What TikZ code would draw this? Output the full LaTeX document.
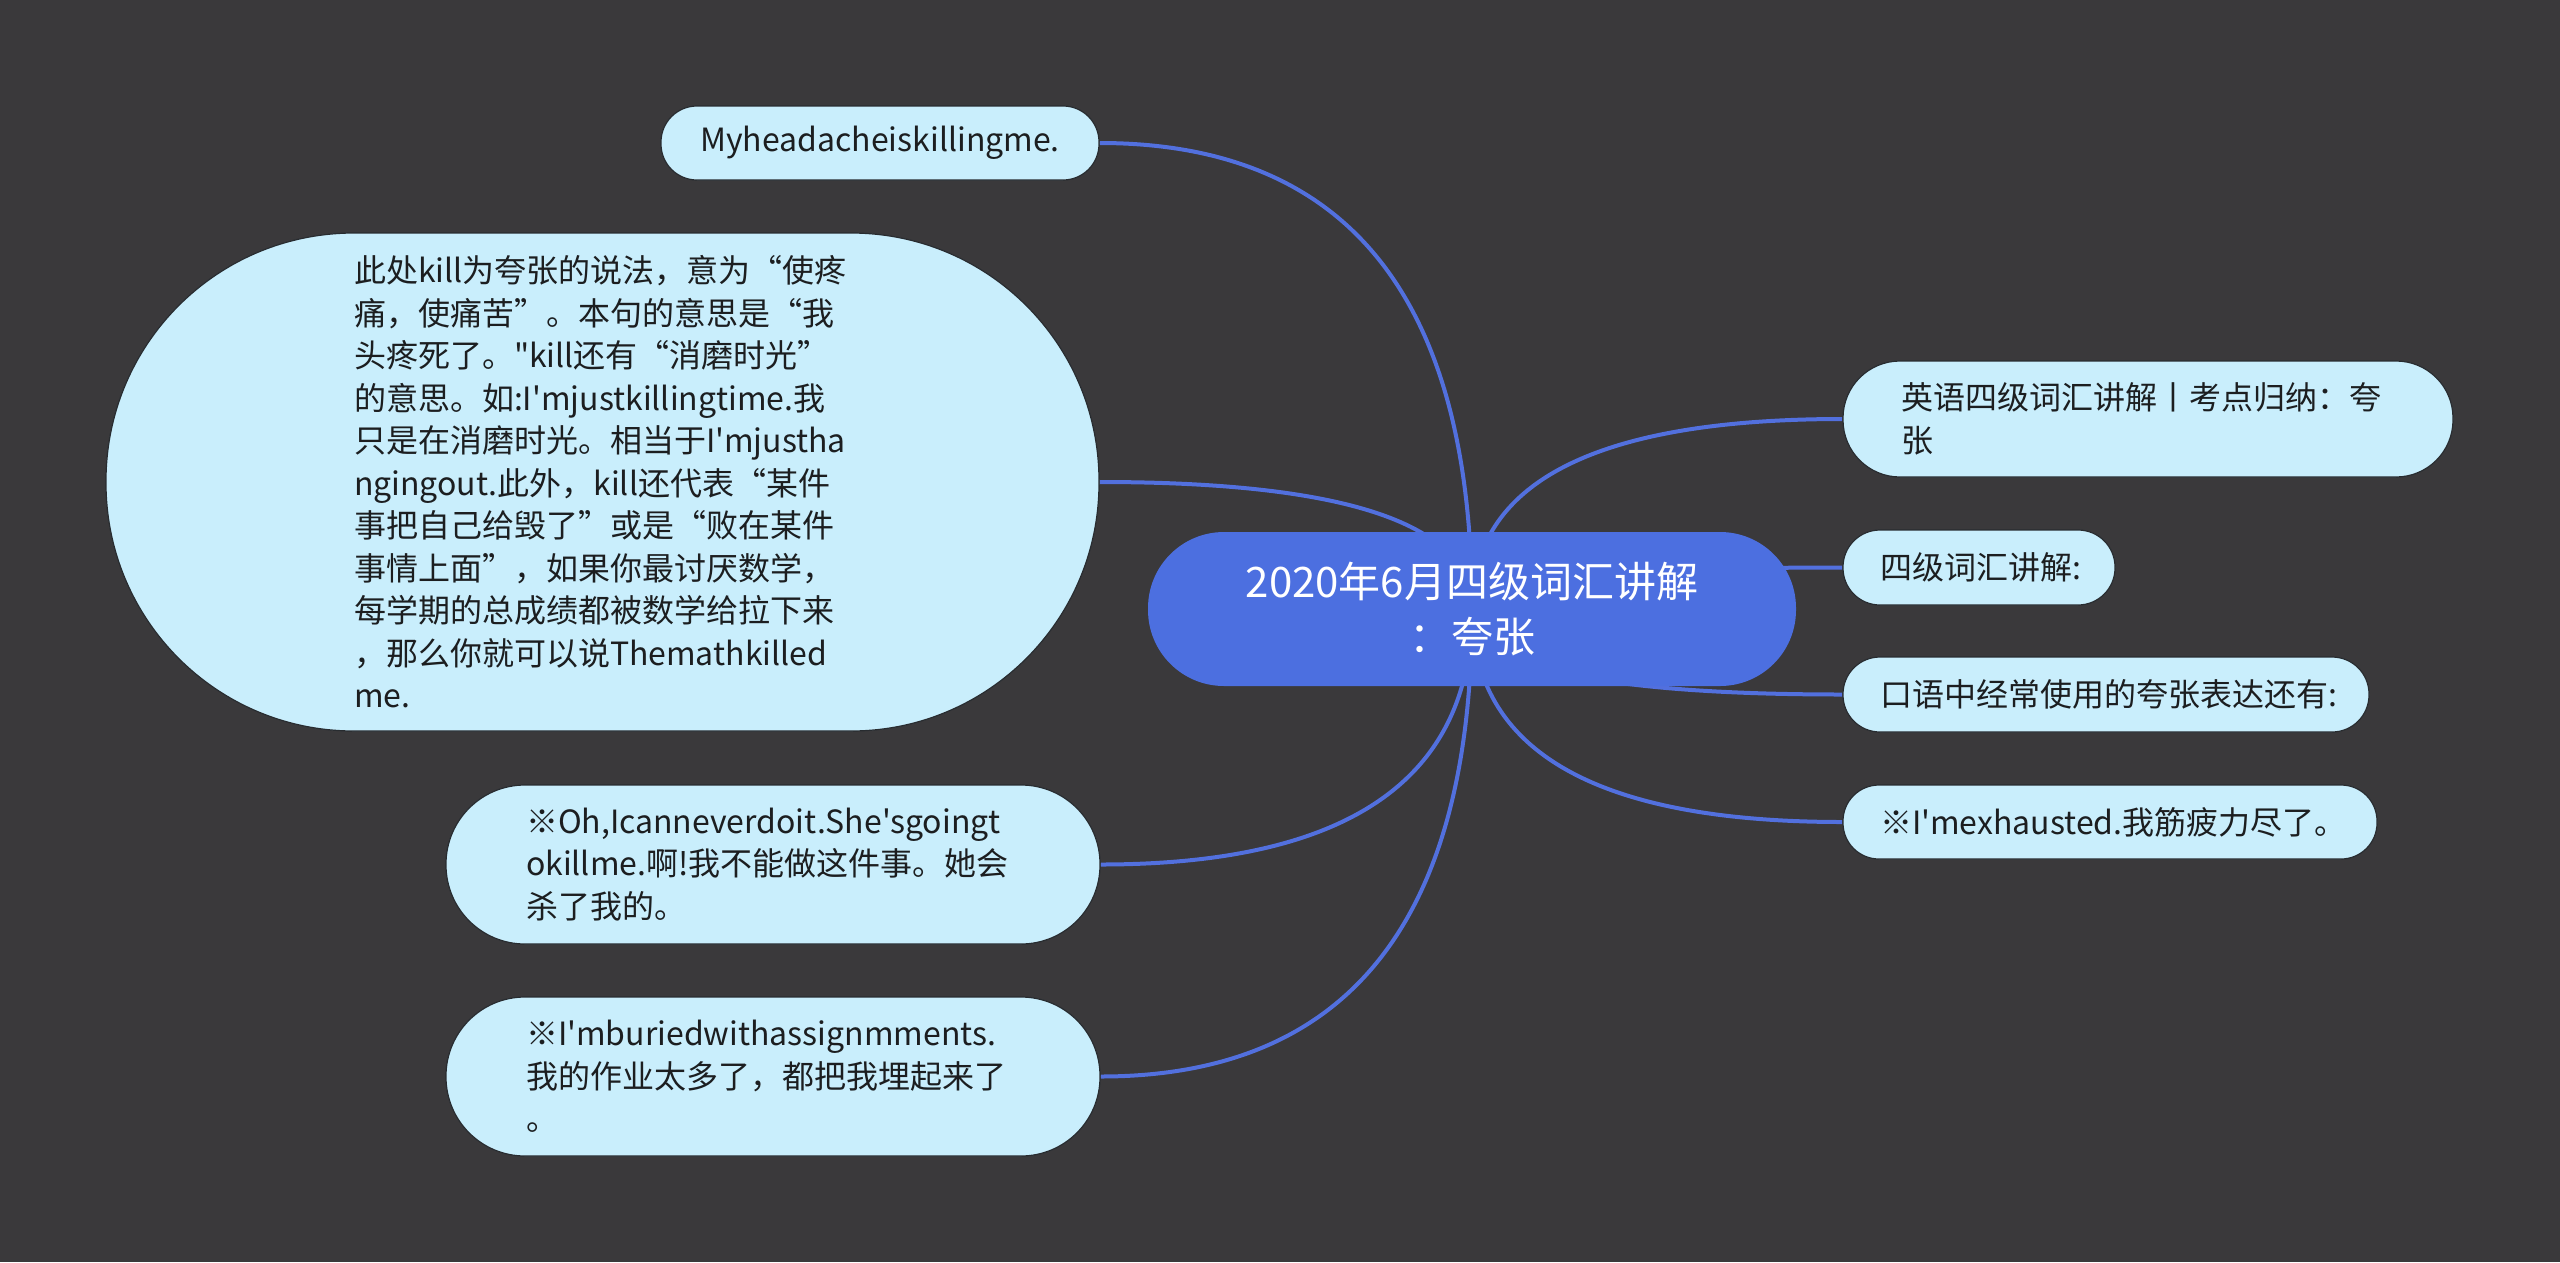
\documentclass[tikz,border=0pt]{standalone}
\usepackage{fontspec}
\usetikzlibrary{calc,backgrounds}
\newfontfamily\zh{Noto Sans CJK SC}
\definecolor{bgdark}{RGB}{58,57,59}
\definecolor{hubblue}{RGB}{76,111,224}
\definecolor{leafcyan}{RGB}{201,238,252}
\definecolor{linkblue}{RGB}{82,112,222}
\definecolor{leafline}{RGB}{40,44,48}

\begin{document}
\begin{tikzpicture}[x=1pt,y=1pt,yscale=-1,xscale=1,
    hub/.style={fill=hubblue, text=white, align=center, inner sep=0pt, font=\zh\fontsize{42}{55}\selectfont},
    leaf/.style={draw=leafline, line width=1.2pt, fill=leafcyan, text={rgb,255:red,28;green,30;blue,32}, align=left, inner ysep=0pt, font=\zh\fontsize{32}{42.5}\selectfont},
    twig/.style={draw=linkblue, line width=4pt}]

    % Root
    \node [hub, rounded corners=76pt, minimum width=648pt, minimum height=154pt] (root) at (1472,609) {2020年6月四级词汇讲解\\：夸张};

    % Left leaves
    \node [leaf, rounded corners=36pt, inner xsep=0pt, minimum width=438pt, minimum height=74pt, align=center] (head) at (880,143) {Myheadacheiskillingme.};
    \node [leaf, rounded corners=248pt, inner xsep=248pt, text width=497pt, minimum height=498pt] (big) at (602.5,482) {此处kill为夸张的说法，意为“使疼\\痛，使痛苦”。本句的意思是“我\\头疼死了。"kill还有“消磨时光”\\的意思。如:I'mjustkillingtime.我\\只是在消磨时光。相当于I'mjustha\\ngingout.此外，kill还代表“某件\\事把自己给毁了”或是“败在某件\\事情上面”，如果你最讨厌数学，\\每学期的总成绩都被数学给拉下来\\，那么你就可以说Themathkilled\\me.};
    \node [leaf, rounded corners=79pt, inner xsep=80pt, text width=494pt, minimum height=159pt] (oh) at (773,864.5) {※Oh,Icanneverdoit.She'sgoingt\\okillme.啊!我不能做这件事。她会\\杀了我的。};
    \node [leaf, rounded corners=79pt, inner xsep=80pt, text width=494pt, minimum height=159pt] (buried) at (773,1076.5) {※I'mburiedwithassignmments.\\我的作业太多了，都把我埋起来了\\。};

    % Right leaves
    \node [leaf, rounded corners=57pt, inner xsep=58pt, text width=494pt, minimum height=116pt] (eng) at (2148,419) {英语四级词汇讲解丨考点归纳：夸\\张};
    \node [leaf, rounded corners=37pt, inner xsep=37pt, text width=198pt, minimum height=75pt] (lvfour) at (1979,567.5) {四级词汇讲解:};
    \node [leaf, rounded corners=37pt, inner xsep=37pt, text width=452pt, minimum height=75pt] (oral) at (2106,694.5) {口语中经常使用的夸张表达还有:};
    \node [leaf, rounded corners=36pt, inner xsep=37pt, text width=460pt, minimum height=74pt] (tired) at (2110,822) {※I'mexhausted.我筋疲力尽了。};

    \begin{scope}[on background layer]
    % Backdrop
    \fill [bgdark] (0,0) rectangle (2560,1262);
    % Branches
    \draw [twig] (root.center) .. controls ($(root.center)!2/3!(root.center |- head.east)$) and ($(head.east)!2/3!(root.center |- head.east)$) .. (head.east);
    \draw [twig] (root.center) .. controls ($(root.center)!2/3!(root.center |- big.east)$) and ($(big.east)!2/3!(root.center |- big.east)$) .. (big.east);
    \draw [twig] (root.center) .. controls ($(root.center)!2/3!(root.center |- oh.east)$) and ($(oh.east)!2/3!(root.center |- oh.east)$) .. (oh.east);
    \draw [twig] (root.center) .. controls ($(root.center)!2/3!(root.center |- buried.east)$) and ($(buried.east)!2/3!(root.center |- buried.east)$) .. (buried.east);
    \draw [twig] (root.center) .. controls ($(root.center)!2/3!(root.center |- eng.west)$) and ($(eng.west)!2/3!(root.center |- eng.west)$) .. (eng.west);
    \draw [twig] (root.center) .. controls ($(root.center)!2/3!(root.center |- lvfour.west)$) and ($(lvfour.west)!2/3!(root.center |- lvfour.west)$) .. (lvfour.west);
    \draw [twig] (root.center) .. controls ($(root.center)!2/3!(root.center |- oral.west)$) and ($(oral.west)!2/3!(root.center |- oral.west)$) .. (oral.west);
    \draw [twig] (root.center) .. controls ($(root.center)!2/3!(root.center |- tired.west)$) and ($(tired.west)!2/3!(root.center |- tired.west)$) .. (tired.west);
    \end{scope}

\end{tikzpicture}
\end{document}
